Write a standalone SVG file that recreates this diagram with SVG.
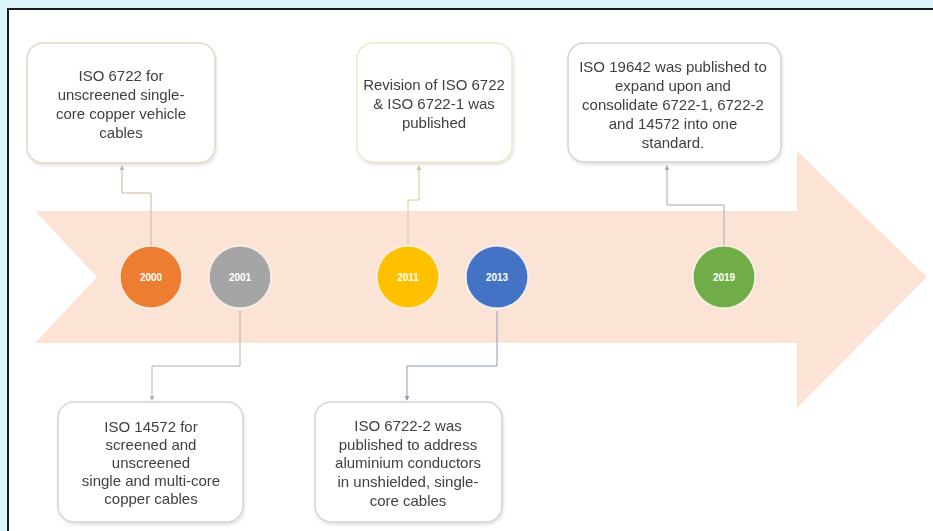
<svg xmlns="http://www.w3.org/2000/svg" width="933" height="531" viewBox="0 0 933 531">
  <style>
    .box { fill: #ffffff; stroke-width: 1.5; }
    .label { font-family: "Liberation Sans", Arial, sans-serif; font-size: 15px; fill: #3f3f3f; text-anchor: middle; }
    .year { font-family: "Liberation Sans", Arial, sans-serif; font-size: 10px; font-weight: bold; fill: #ffffff; text-anchor: middle; }
    .dot { stroke: #ffffff; stroke-opacity: 0.7; stroke-width: 1.5; }
    .link { fill: none; stroke-width: 1; }
  </style>
  <defs>
    <marker id="tip" viewBox="0 0 6 6" refX="5" refY="3" markerWidth="5" markerHeight="5" orient="auto-start-reverse">
      <path d="M0,0 L6,3 L0,6 Z" fill="context-stroke"/>
    </marker>
    <filter id="shade" x="-10%" y="-10%" width="125%" height="130%">
      <feDropShadow dx="1" dy="2" stdDeviation="1.5" flood-color="#000000" flood-opacity="0.12"/>
    </filter>
  </defs>

  <!-- page background and frame -->
  <rect x="0" y="0" width="933" height="531" fill="#dcf4fc"/>
  <rect x="8" y="9" width="940" height="540" fill="#ffffff" stroke="#1a1a1a" stroke-width="2"/>

  <!-- timeline arrow -->
  <path d="M35,211 L797,211 L797,151 L927,277 L797,408 L797,343 L35,343 L97,277 Z" fill="#fbe4d6"/>

  <!-- connectors -->
  <g id="connectors">
    <path class="link" stroke="#c9b79a" d="M151,246 L151,193 L122,193 L122,166" marker-end="url(#tip)"/>
    <path class="link" stroke="#b0b0b0" d="M240,311 L240,366 L152,366 L152,400" marker-end="url(#tip)"/>
    <path class="link" stroke="#d8c98a" d="M408,246 L408,200 L419,200 L419,166" marker-end="url(#tip)"/>
    <path class="link" stroke="#8c9cb8" d="M497,311 L497,366 L407,366 L407,400" marker-end="url(#tip)"/>
    <path class="link" stroke="#a8a8a8" d="M724,246 L724,205 L667,205 L667,166" marker-end="url(#tip)"/>
  </g>

  <!-- milestones -->
  <g id="y2000">
    <circle class="dot" cx="151" cy="277" r="31" fill="#ed7d31"/>
    <text class="year" x="151" y="281">2000</text>
  </g>
  <g id="y2001">
    <circle class="dot" cx="240" cy="277" r="31" fill="#a5a5a5"/>
    <text class="year" x="240" y="281">2001</text>
  </g>
  <g id="y2011">
    <circle class="dot" cx="408" cy="277" r="31" fill="#ffc000"/>
    <text class="year" x="408" y="281">2011</text>
  </g>
  <g id="y2013">
    <circle class="dot" cx="497" cy="277" r="31" fill="#4472c4"/>
    <text class="year" x="497" y="281">2013</text>
  </g>
  <g id="y2019">
    <circle class="dot" cx="724" cy="277" r="31" fill="#70ad47"/>
    <text class="year" x="724" y="281">2019</text>
  </g>

  <!-- event notes -->
  <g id="note2000" filter="url(#shade)">
    <rect class="box" x="27" y="43" width="188" height="120" rx="16" stroke="#e2d6c2"/>
    <text class="label" x="121"><tspan x="121" y="81">ISO 6722 for</tspan><tspan x="121" y="100">unscreened single-</tspan><tspan x="121" y="119">core copper vehicle</tspan><tspan x="121" y="138">cables</tspan></text>
  </g>
  <g id="note2011" filter="url(#shade)">
    <rect class="box" x="357" y="43" width="155" height="119" rx="16" stroke="#efe7c4"/>
    <text class="label" x="434"><tspan x="434" y="90">Revision of ISO 6722</tspan><tspan x="434" y="109">&amp; ISO 6722-1 was</tspan><tspan x="434" y="128">published</tspan></text>
  </g>
  <g id="note2019" filter="url(#shade)">
    <rect class="box" x="568" y="43" width="213" height="119" rx="16" stroke="#d4d4d4"/>
    <text class="label" x="673"><tspan x="673" y="72">ISO 19642 was published to</tspan><tspan x="673" y="91">expand upon and</tspan><tspan x="673" y="110">consolidate 6722-1, 6722-2</tspan><tspan x="673" y="129">and 14572 into one</tspan><tspan x="673" y="148">standard.</tspan></text>
  </g>
  <g id="note2001" filter="url(#shade)">
    <rect class="box" x="58" y="402" width="185" height="120" rx="16" stroke="#d4d4d4"/>
    <text class="label" x="151"><tspan x="151" y="432">ISO 14572 for</tspan><tspan x="151" y="450">screened and</tspan><tspan x="151" y="468">unscreened</tspan><tspan x="151" y="486">single and multi-core</tspan><tspan x="151" y="504">copper cables</tspan></text>
  </g>
  <g id="note2013" filter="url(#shade)">
    <rect class="box" x="315" y="402" width="187" height="120" rx="16" stroke="#d4d4d4"/>
    <text class="label" x="408"><tspan x="408" y="431">ISO 6722-2 was</tspan><tspan x="408" y="450">published to address</tspan><tspan x="408" y="468">aluminium conductors</tspan><tspan x="408" y="487">in unshielded, single-</tspan><tspan x="408" y="506">core cables</tspan></text>
  </g>
</svg>
